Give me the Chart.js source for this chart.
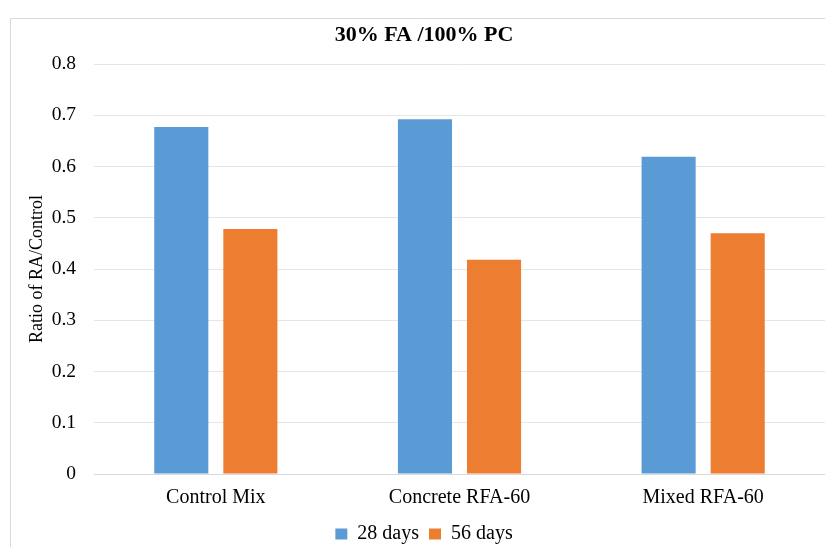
<!DOCTYPE html>
<html>
<head>
<meta charset="utf-8">
<script src="https://cdn.jsdelivr.net/npm/chart.js@4/dist/chart.umd.min.js"></script>
<style>
  html, body { margin: 0; padding: 0; background: #fff; }
  #wrap { width: 825px; height: 547px; position: relative; }
</style>
</head>
<body>
<div id="wrap"><canvas id="c" width="825" height="547"></canvas></div>
<script>
// Mix designs along the category axis
const categories = ['Control Mix', 'Concrete RFA-60', 'Mixed RFA-60'];
// Ratio of RA/Control at each curing age
const days28 = [0.677, 0.692, 0.619];
const days56 = [0.478, 0.418, 0.470];
const seriesNames = ['28 days', '56 days'];
const yTicks = [0, 0.1, 0.2, 0.3, 0.4, 0.5, 0.6, 0.7, 0.8];

const SERIF = "'Liberation Serif', 'Times New Roman', serif";

// Thin frame around the chart
const framePlugin = {
  id: 'frame',
  beforeDraw(chart) {
    const ctx = chart.ctx;
    ctx.save();
    ctx.fillStyle = '#fff';
    ctx.fillRect(0, 0, chart.width, chart.height);
    ctx.strokeStyle = '#d9d9d9';
    ctx.lineWidth = 1;
    ctx.beginPath();
    ctx.moveTo(10.5, chart.height);
    ctx.lineTo(10.5, 18.5);
    ctx.lineTo(chart.width, 18.5);
    ctx.stroke();
    ctx.restore();
  }
};

new Chart(document.getElementById('c'), {
  type: 'bar',
  data: {
    labels: categories,
    datasets: [
      { label: seriesNames[0], data: days28, backgroundColor: '#5B9BD5' },
      { label: seriesNames[1], data: days56, backgroundColor: '#ED7D31' }
    ]
  },
  options: {
    responsive: false,
    animation: false,
    devicePixelRatio: 1,
    layout: { padding: { left: 23, right: 0, top: 0, bottom: -7 } },
    datasets: {
      bar: { barPercentage: 0.783, categoryPercentage: 0.567 }
    },
    plugins: {
      title: {
        display: true,
        text: '30% FA /100% PC',
        color: '#000',
        font: { family: SERIF, size: 22, weight: 'bold' },
        padding: { top: 22, bottom: 15.6 }
      },
      legend: {
        position: 'bottom',
        labels: {
          color: '#000',
          font: { family: SERIF, size: 20 },
          boxWidth: 12,
          boxHeight: 11,
          padding: 10
        }
      },
      tooltip: { enabled: false }
    },
    scales: {
      x: {
        grid: { display: false, drawTicks: false },
        border: { display: true, color: '#d9d9d9' },
        ticks: { color: '#000', font: { family: SERIF, size: 20 }, padding: 12 },
        afterFit(scale) { scale.height = 40; }
      },
      y: {
        min: 0,
        max: 0.8,
        afterBuildTicks(scale) { scale.ticks = yTicks.map(v => ({ value: v })); },
        grid: { color: '#e6e6e6', drawTicks: false },
        border: { display: false },
        ticks: {
          color: '#000',
          font: { family: SERIF, size: 19.5 },
          padding: 18,
          callback: v => String(v)
        },
        title: {
          display: true,
          text: 'Ratio of RA/Control',
          color: '#000',
          font: { family: SERIF, size: 18 },
          padding: { top: 3, bottom: 0 }
        },
        afterFit(scale) { scale.width = 71; }
      }
    }
  },
  plugins: [framePlugin]
});
</script>
</body>
</html>
